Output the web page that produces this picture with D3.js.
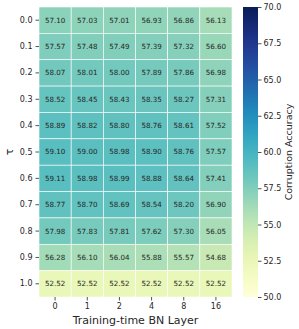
<!DOCTYPE html>
<html>
<head>
<meta charset="utf-8">
<script src="https://cdn.jsdelivr.net/npm/d3@7"></script>
<style>
  body { margin: 0; background: #fff; }
  text { font-family: "DejaVu Sans", sans-serif; fill: #262626; }
</style>
</head>
<body>
<svg id="chart"></svg>
<script>
const layers = ["0", "1", "2", "4", "8", "16"];
const taus = ["0.0", "0.1", "0.2", "0.3", "0.4", "0.5", "0.6", "0.7", "0.8", "0.9", "1.0"];
const accuracy = [
    [57.10, 57.03, 57.01, 56.93, 56.86, 56.13],
    [57.57, 57.48, 57.49, 57.39, 57.32, 56.60],
    [58.07, 58.01, 58.00, 57.89, 57.86, 56.98],
    [58.52, 58.45, 58.43, 58.35, 58.27, 57.31],
    [58.89, 58.82, 58.80, 58.76, 58.61, 57.52],
    [59.10, 59.00, 58.98, 58.90, 58.76, 57.57],
    [59.11, 58.98, 58.99, 58.88, 58.64, 57.41],
    [58.77, 58.70, 58.69, 58.54, 58.20, 56.90],
    [57.98, 57.83, 57.81, 57.62, 57.30, 56.05],
    [56.28, 56.10, 56.04, 55.88, 55.57, 54.68],
    [52.52, 52.52, 52.52, 52.52, 52.52, 52.52]
];
const colorTicks = [50.0, 52.5, 55.0, 57.5, 60.0, 62.5, 65.0, 67.5, 70.0];

const W = 299, H = 329;
const m = { left: 39, top: 7, right: 232, bottom: 297 };

const svg = d3.select("#chart").attr("width", W).attr("height", H);

const x = d3.scaleBand().domain(layers).range([m.left, m.right]);
const y = d3.scaleBand().domain(taus).range([m.top, m.bottom]);
const color = d3.scaleSequential(d3.interpolateYlGnBu).domain([50, 70]);

const cells = [];
accuracy.forEach((row, i) => row.forEach((v, j) => cells.push({ tau: taus[i], layer: layers[j], v: v })));

svg.append("g").selectAll("rect")
    .data(cells)
    .enter()
    .append("rect")
    .attr("x", d => x(d.layer))
    .attr("y", d => y(d.tau))
    .attr("width", x.bandwidth())
    .attr("height", y.bandwidth())
    .attr("fill", d => color(d.v))
    .attr("stroke", "white")
    .attr("stroke-width", 0.6);

svg.append("g").selectAll("text")
    .data(cells)
    .enter()
    .append("text")
    .attr("x", d => x(d.layer) + x.bandwidth() / 2)
    .attr("y", d => y(d.tau) + y.bandwidth() / 2)
    .attr("dy", "0.35em")
    .attr("text-anchor", "middle")
    .style("font-size", "7.1px")
    .style("fill", d => d.v > 63 ? "white" : "#262626")
    .text(d => d.v.toFixed(2));

// axes
const xAxis = svg.append("g")
    .attr("transform", `translate(0,${m.bottom})`)
    .call(d3.axisBottom(x).tickSize(3.5).tickPadding(3));
const yAxis = svg.append("g")
    .attr("transform", `translate(${m.left},0)`)
    .call(d3.axisLeft(y).tickSize(3.5).tickPadding(3));
[xAxis, yAxis].forEach(a => {
    a.select(".domain").remove();
    a.selectAll(".tick line").attr("stroke", "#262626").attr("stroke-width", 0.8);
    a.selectAll("text").style("font-size", "8px").style("font-family", "DejaVu Sans");
});

svg.append("text")
    .attr("x", (m.left + m.right) / 2)
    .attr("y", 324)
    .attr("text-anchor", "middle")
    .style("font-size", "11px")
    .text("Training-time BN Layer");

svg.append("text")
    .attr("transform", `translate(13,${(m.top + m.bottom) / 2}) rotate(-90)`)
    .attr("text-anchor", "middle")
    .style("font-size", "11px")
    .text("τ");

// colorbar
const cb = { x: 243, w: 15 };
const cy = d3.scaleLinear().domain([50, 70]).range([m.bottom, m.top]);
const defs = svg.append("defs");
const grad = defs.append("linearGradient")
    .attr("id", "cbgrad")
    .attr("x1", 0).attr("y1", 1).attr("x2", 0).attr("y2", 0);
d3.range(0, 1.001, 0.05).forEach(t => {
    grad.append("stop")
        .attr("offset", t)
        .attr("stop-color", color(50 + 20 * t));
});
svg.append("rect")
    .attr("x", cb.x)
    .attr("y", m.top)
    .attr("width", cb.w)
    .attr("height", m.bottom - m.top)
    .attr("fill", "url(#cbgrad)");

const cAxis = svg.append("g")
    .attr("transform", `translate(${cb.x + cb.w},0)`)
    .call(d3.axisRight(cy).tickValues(colorTicks).tickFormat(d3.format(".1f")).tickSize(3.5).tickPadding(2));
cAxis.select(".domain").remove();
cAxis.selectAll(".tick line").attr("stroke", "#262626").attr("stroke-width", 0.8);
cAxis.selectAll("text").style("font-size", "8px").style("font-family", "DejaVu Sans");

svg.append("text")
    .attr("transform", `translate(292,${(m.top + m.bottom) / 2}) rotate(-90)`)
    .attr("text-anchor", "middle")
    .style("font-size", "9.5px")
    .text("Corruption Accuracy");
</script>
</body>
</html>
